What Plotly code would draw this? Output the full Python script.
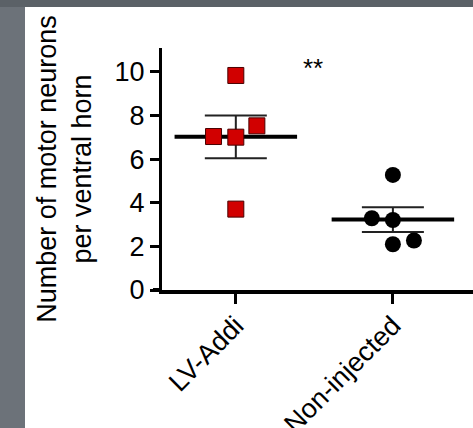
import numpy as np
import plotly.graph_objects as go

# ---- data ----
categories = ["LV-Addi", "Non-injected"]
lv_addi_values = [9.84, 7.04, 7.01, 7.53, 3.71]
non_injected_values = [5.28, 3.29, 3.21, 2.10, 2.27]
lv_addi_jitter = [0.0, -0.142, 0.0, 0.134, 0.0]
non_injected_jitter = [0.0, -0.134, 0.0, 0.0, 0.134]
y_ticks = [0, 2, 4, 6, 8, 10]
y_title = "Number of motor neurons<br>per ventral horn"
significance = "**"

FONT = "Liberation Sans, Arial, Helvetica, sans-serif"
W, H = 473, 428
ML, MR, MT, MB = 162, 0, 48, 138

groups = [
    (lv_addi_values, lv_addi_jitter, dict(symbol="square", size=16, color="#d10000",
                                          line=dict(color="#4a0000", width=1))),
    (non_injected_values, non_injected_jitter, dict(symbol="circle", size=16, color="#000000",
                                                     line=dict(color="#000000", width=0))),
]

fig = go.Figure()

half = 0.39
for i, (vals, jit, mk) in enumerate(groups):
    v = np.array(vals)
    mean = v.mean()
    sem = v.std(ddof=1) / np.sqrt(len(v))
    # mean line
    fig.add_trace(go.Scatter(x=[i - half, i + half], y=[mean, mean], mode="lines",
                             line=dict(color="black", width=4), hoverinfo="skip",
                             showlegend=False))
    # SEM error bar
    fig.add_trace(go.Scatter(x=[i], y=[mean], mode="markers",
                             marker=dict(size=1, color="rgba(0,0,0,0)"),
                             error_y=dict(type="data", array=[sem], visible=True,
                                          color="#222222", thickness=2, width=31),
                             showlegend=False, hoverinfo="skip"))

for i, (vals, jit, mk) in enumerate(groups):
    fig.add_trace(go.Scatter(x=[i + j for j in jit], y=vals, mode="markers",
                             marker=mk, showlegend=False, name=categories[i]))

pw = W - ML - MR
ph = H - MT - MB

def px_to_paper_x(p):
    return (p - ML) / pw

def px_to_paper_y(p):
    return (H - MB - p) / ph

# gray frame around white panel
fig.add_shape(type="rect", xref="paper", yref="paper",
              x0=px_to_paper_x(0), x1=px_to_paper_x(25),
              y0=px_to_paper_y(H), y1=px_to_paper_y(0),
              fillcolor="#6c7279", line=dict(width=0), layer="below")
fig.add_shape(type="rect", xref="paper", yref="paper",
              x0=px_to_paper_x(0), x1=px_to_paper_x(W),
              y0=px_to_paper_y(7), y1=px_to_paper_y(0),
              fillcolor="#5b6167", line=dict(width=0), layer="below")
# x-axis line extension to the left of the y axis
fig.add_shape(type="line", xref="paper", yref="paper",
              x0=px_to_paper_x(153), x1=0, y0=0, y1=0,
              line=dict(color="black", width=4))

fig.add_annotation(x=0.49, y=10.2, text=significance, showarrow=False,
                   font=dict(family=FONT, size=26, color="black"),
                   xanchor="center", yanchor="middle")

fig.update_layout(
    width=W, height=H, autosize=False,
    margin=dict(l=ML, r=MR, t=MT, b=MB, pad=0, autoexpand=False),
    paper_bgcolor="white", plot_bgcolor="white",
    font=dict(family=FONT, size=26, color="black"),
    xaxis=dict(range=[-0.47, 1.51], tickmode="array", tickvals=[0, 1],
               ticktext=categories, tickangle=-45, ticks="outside", ticklen=10,
               tickwidth=3, tickcolor="black", showline=True, linewidth=4,
               linecolor="black", showgrid=False, zeroline=False, automargin=False,
               ticklabelstandoff=-5,
               tickfont=dict(family=FONT, size=27)),
    yaxis=dict(range=[0, 11.1], tickmode="array", tickvals=y_ticks, ticks="outside",
               ticklen=9, tickwidth=3, tickcolor="black", showline=True, linewidth=3,
               linecolor="black", showgrid=False, zeroline=False, automargin=False,
               tickfont=dict(family=FONT, size=27),
               title=dict(text=y_title, font=dict(family=FONT, size=27), standoff=16)),
)

fig.write_html("out.html", config={"displayModeBar": False},
               post_script="document.body.style.margin='0';document.body.style.overflow='hidden';")
